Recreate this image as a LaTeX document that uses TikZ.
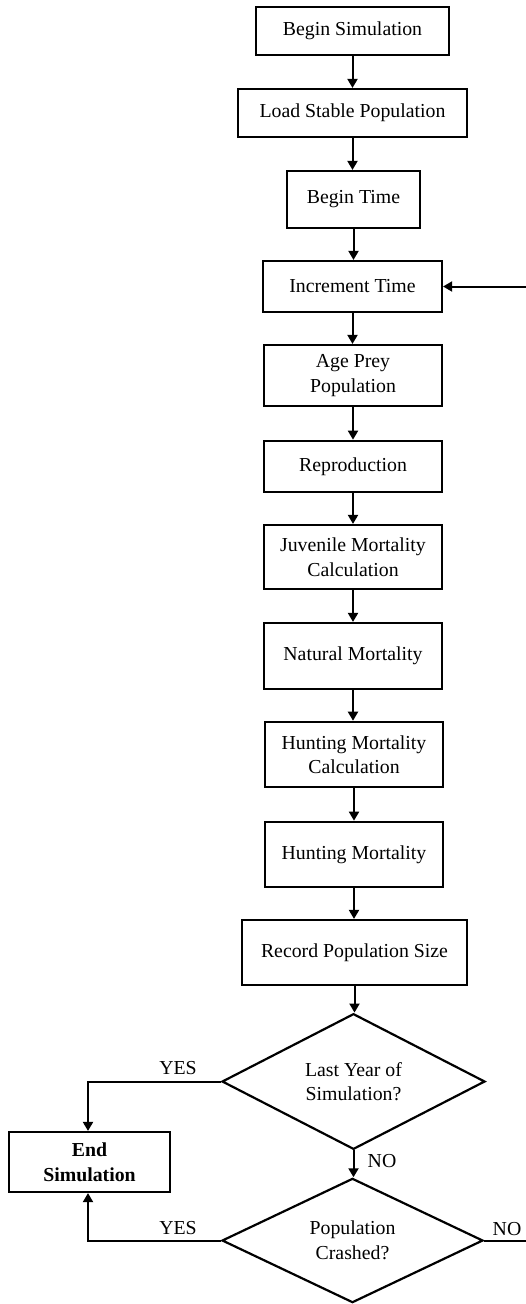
\documentclass[tikz,border=0pt]{standalone}
\usepackage{fontspec}
\setmainfont{Liberation Serif}
\usetikzlibrary{shapes.geometric,arrows.meta}
\begin{document}
\begin{tikzpicture}[x=1pt,y=-1pt,
  every node/.style={font=\fontsize{19.8}{24.5}\selectfont},
  box/.style={draw,line width=2.2pt,align=center,inner sep=0pt},
  dec/.style={draw,diamond,line width=2.2pt,align=center,inner sep=0pt},
  arr/.style={line width=2pt,-{Triangle[width=10pt,length=9pt]}},
  ln/.style={line width=2pt},
  lab/.style={inner sep=0pt}]
\useasboundingbox (0,0) rectangle (526,1304);
\node[box,minimum width=193,minimum height=48] (b1) at (352.5,31) {Begin Simulation};
\node[box,minimum width=229,minimum height=48] (b2) at (352.5,113) {Load Stable Population};
\node[box,minimum width=133,minimum height=57] (b3) at (353.5,199.5) {Begin Time};
\node[box,minimum width=179,minimum height=51] (b4) at (352.5,286.5) {Increment Time};
\node[box,minimum width=178,minimum height=61] (b5) at (353,375.5) {Age Prey\\Population};
\node[box,minimum width=178,minimum height=51,line width=2.7pt] (b6) at (353,466.5) {Reproduction};
\node[box,minimum width=178,minimum height=64] (b7) at (353,557) {Juvenile Mortality\\Calculation};
\node[box,minimum width=178,minimum height=66] (b8) at (353,656) {Natural Mortality};
\node[box,minimum width=178,minimum height=65,line width=2.6pt] (b9) at (354,754.5) {Hunting Mortality\\Calculation};
\node[box,minimum width=178,minimum height=65,line width=2.7pt] (b10) at (354,854.5) {Hunting Mortality};
\node[box,minimum width=225,minimum height=65] (b11) at (354.5,952.5) {Record Population Size};
\node[dec,minimum width=263,minimum height=123] (d1) at (353.5,1081.5) {Last Year of\\Simulation?};
\node[dec,minimum width=261,minimum height=123] (d2) at (352.5,1240.5) {Population\\Crashed?};
\node[box,minimum width=161,minimum height=60,font=\fontsize{19.8}{24.5}\selectfont\bfseries] (end) at (89.5,1162) {End\\Simulation};
\coordinate (loopin) at (527,285);
\coordinate (loopout) at (527,1241);
\coordinate (yx) at (88,0);

\draw[arr] (b1.south) -- (b1.south |- b2.north);
\draw[arr] (b2.south) -- (b2.south |- b3.north);
\draw[arr] (b3.south) -- (b3.south |- b4.north);
\draw[arr] (b4.south) -- (b4.south |- b5.north);
\draw[arr] (b5.south) -- (b5.south |- b6.north);
\draw[arr] (b6.south) -- (b6.south |- b7.north);
\draw[arr] (b7.south) -- (b7.south |- b8.north);
\draw[arr] (b8.south) -- (b8.south |- b9.north);
\draw[arr] (b9.south) -- (b9.south |- b10.north);
\draw[arr] (b10.south) -- (b10.south |- b11.north);
\draw[arr] (b11.south) -- (b11.south |- d1.north);
\draw[arr] (d1.south) -- (d1.south |- d2.north);
\draw[arr] (d1.west) -- (yx |- d1.west) -- (yx |- end.north);
\draw[arr] (d2.west) -- (yx |- d2.west) -- (yx |- end.south);
\draw[ln] (d2.east) -- (loopout |- d2.east);
\draw[arr] (loopin |- b4.east) -- (b4.east);

\node[lab] (yes1) at (178,1068) {YES};
\node[lab] (yes2) at (178,1228) {YES};
\node[lab] (no1) at (382,1161) {NO};
\node[lab] (no2) at (507,1229) {NO};
\end{tikzpicture}
\end{document}
